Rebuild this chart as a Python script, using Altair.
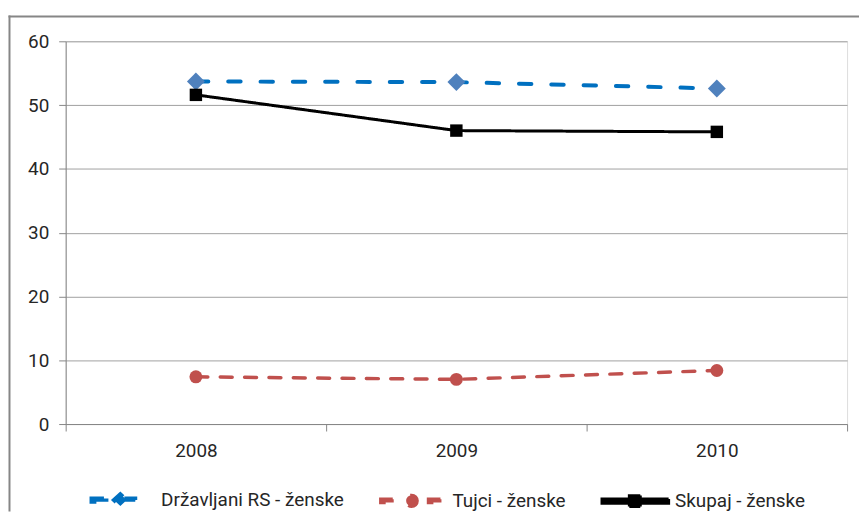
import altair as alt
import pandas as pd

# ---- data ----
years = [2008, 2009, 2010]
series = ["Državljani RS - ženske", "Tujci - ženske", "Skupaj - ženske"]
drzavljani = [53.7, 53.6, 52.6]
tujci = [7.4, 7.0, 8.4]
skupaj = [51.6, 46.0, 45.8]
y_ticks = [0, 10, 20, 30, 40, 50, 60]
x_ticks = [2007.5, 2008, 2008.5, 2009, 2009.5, 2010, 2010.5]

# ---- styles ----
line_colors = ["#0070C0", "#C0504D", "#000000"]
marker_colors = ["#4F81BD", "#C0504D", "#000000"]
dashes = [[12.5, 20], [12, 12.5], [1, 0]]
widths = [4, 3, 3]
shapes = ["diamond", "circle", "square"]
sizes = [324, 169, 156]
FONT = "Roboto"
TXT = "#262626"
AX = "#868686"

rows = []
for name, vals in zip(series, [drzavljani, tujci, skupaj]):
    for yr, v in zip(years, vals):
        rows.append({"year": yr, "series": name, "value": v})
df = pd.DataFrame(rows)

# legend symbols: line + marker drawn as one filled path (units of 25 px)
U = 25.0


def rect(x0, x1, h):
    return f"M{x0/U:.3f},{-h/2/U:.3f}H{x1/U:.3f}V{h/2/U:.3f}H{x0/U:.3f}Z"


def diamond(hw, hh):
    return f"M{-hw/U:.3f},0L0,{-hh/U:.3f}L{hw/U:.3f},0L0,{hh/U:.3f}Z"


def circle(r):
    q = r / U
    return f"M{q:.3f},0A{q:.3f},{q:.3f} 0 1 1 {-q:.3f},0A{q:.3f},{q:.3f} 0 1 1 {q:.3f},0Z"


legend_paths = [
    rect(-29, -12, 3.4) + rect(4, 15, 3.4) + diamond(6.5, 6),
    rect(-31, -18, 3.4) + rect(17, 30, 3.4) + circle(5.5),
    rect(-33, 34, 4.2) + rect(-5.5, 5.5, 11),
]

x_enc = alt.X(
    "year:Q",
    scale=alt.Scale(domain=[2007.5, 2010.5], nice=False, zero=False),
    axis=alt.Axis(
        title=None,
        values=x_ticks,
        labelExpr="datum.value % 1 == 0 ? format(datum.value, 'd') : ''",
        tickOpacity={"condition": {"test": "datum.value % 1 == 0", "value": 0}, "value": 1},
        grid=False,
        tickSize=7,
        labelPadding=11,
        domainColor=AX,
        tickColor=AX,
        labelFont=FONT,
        labelFontSize=19,
        labelColor=TXT,
    ),
)
y_enc = alt.Y(
    "value:Q",
    scale=alt.Scale(domain=[0, 60], nice=False),
    axis=alt.Axis(
        title=None,
        values=y_ticks,
        grid=True,
        gridColor="#A0A0A0",
        tickSize=7,
        labelPadding=10,
        domainColor=AX,
        tickColor=AX,
        labelFont=FONT,
        labelFontSize=19,
        labelColor=TXT,
    ),
)

legend_spec = dict(
    title=None,
    orient="none",
    legendX=28,
    legendY=434.5,
    direction="horizontal",
    symbolSize=2500,
    symbolStrokeWidth=0,
    symbolOpacity=1,
    labelOffset=14,
    columnPadding=30,
    padding=0,
    labelFont=FONT,
    labelFontSize=19,
    labelColor=TXT,
    labelLimit=400,
)

base = alt.Chart(df)

color_scale = alt.Scale(domain=series, range=line_colors)

lines = base.mark_line(strokeCap="round").encode(
    x=x_enc,
    y=y_enc,
    color=alt.Color("series:N", scale=color_scale, legend=None),
    strokeDash=alt.StrokeDash(
        "series:N", scale=alt.Scale(domain=series, range=dashes), legend=None
    ),
    strokeWidth=alt.StrokeWidth(
        "series:N", scale=alt.Scale(domain=series, range=widths), legend=None
    ),
    detail="series:N",
)

point_layers = []
for name, shp, sz, col in zip(series, shapes, sizes, marker_colors):
    point_layers.append(
        base.transform_filter(alt.datum.series == name)
        .mark_point(filled=True, opacity=1, shape=shp, size=sz, color=col)
        .encode(x="year:Q", y="value:Q")
    )

# legend-only layer: its marks sit far below the page; it only feeds the legend
legend_layer = base.mark_point(filled=True).encode(
    x=alt.value(0),
    y=alt.value(5000),
    color=alt.Color("series:N", scale=color_scale, legend=alt.Legend(**legend_spec)),
    shape=alt.Shape(
        "series:N",
        scale=alt.Scale(domain=series, range=legend_paths),
        legend=alt.Legend(**legend_spec),
    ),
)

# chart-area frame (top and left edges; the others fall outside the picture)
one = alt.Chart(pd.DataFrame({"a": [0]}))
frame_top = one.mark_rule(stroke=AX, strokeWidth=2).encode(
    x=alt.value(-57.5), x2=alt.value(798), y=alt.value(-25)
)
frame_left = one.mark_rule(stroke=AX, strokeWidth=2).encode(
    x=alt.value(-56.5), y=alt.value(-26), y2=alt.value(473)
)

chart = (
    alt.layer(frame_top, frame_left, legend_layer, lines, *point_layers)
    .properties(
        width=786,
        height=385,
        autosize=alt.AutoSizeParams(type="none"),
        padding={"left": 58, "top": 32, "right": 12, "bottom": 88},
    )
    .configure_view(stroke=None)
    .configure(background="white")
)

chart.save("out.html", embed_options={"renderer": "svg", "actions": False})
